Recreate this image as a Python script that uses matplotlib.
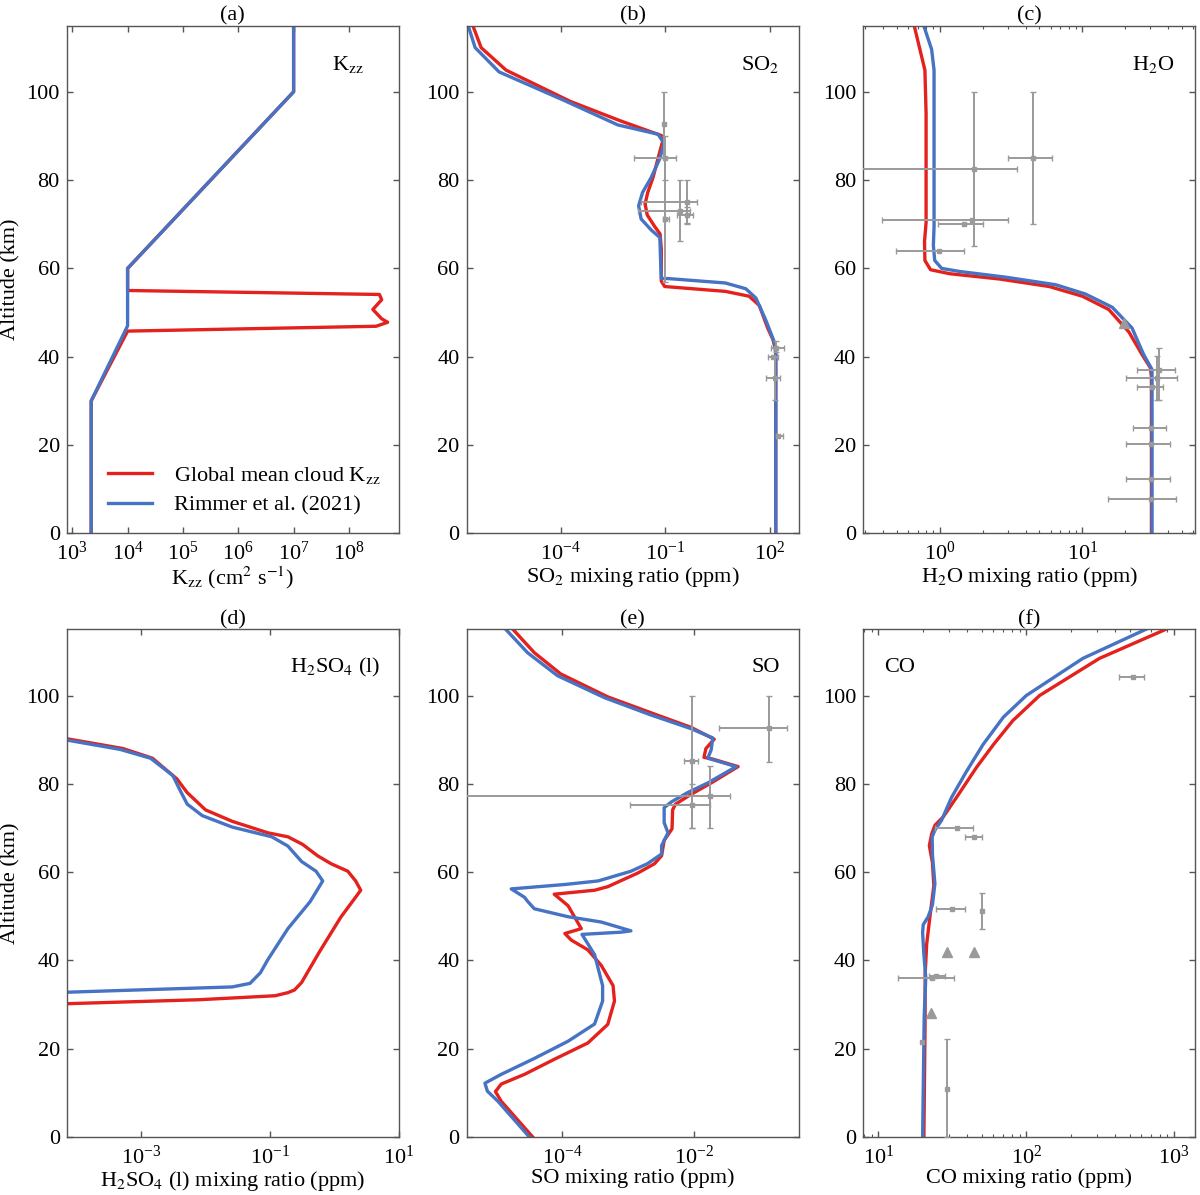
import matplotlib
matplotlib.use("Agg")
import matplotlib.pyplot as plt
import numpy as np
from matplotlib.ticker import FixedLocator, LogLocator, NullLocator, NullFormatter

plt.rcParams['font.family'] = ['Liberation Serif', 'DejaVu Serif']
plt.rcParams['mathtext.fontset'] = 'stix'
plt.rcParams['font.size'] = 16

RED = '#e4211c'
BLUE = '#4673c3'
GREY = '#9a9a9a'

# ---- (a) Kzz profiles ----
kzz_alt_blue = [0, 30, 47, 60, 100, 115]
kzz_blue = [2.2e3, 2.2e3, 1e4, 1e4, 1e7, 1e7]
kzz_alt_red = [0, 30, 45.8, 46.9, 47.8, 48.6, 50.7, 52.9, 54.1, 55.0, 60, 100, 115]
kzz_red = [2.2e3, 2.2e3, 1e4, 3.1e8, 5.0e8, 3.9e8, 2.7e8, 3.9e8, 3.55e8, 1e4, 1e4, 1e7, 1e7]

# ---- (b) SO2 ----
so2_alt_red = [115, 110.0, 104.9, 97.8, 93.4, 90.1, 89.1, 84.9, 80.6, 77.2, 74.6, 72.1, 69.5,
               67.8, 64.4, 57.1, 55.9, 54.8, 53.7, 51.6, 46.5, 43.9, 41.4, 0]
so2_red = [3.0e-7, 5.2e-7, 2.7e-6, 1.9e-4, 5.2e-3, 0.076, 0.085, 0.061, 0.044, 0.031, 0.026, 0.030,
           0.049, 0.070, 0.076, 0.076, 0.095, 5.2, 25, 49, 85, 120, 145, 145]
so2_alt_blue = [115, 110, 104.5, 98.1, 92.5, 90.4, 88.3, 84.9, 80.6, 77.2, 74.2, 71.2, 68.7,
                67.0, 61.0, 57.7, 57.7, 56.7, 55.4, 53.3, 48.2, 43.1, 40.5, 0]
so2_blue = [2.2e-7, 3.5e-7, 1.7e-6, 1.2e-4, 4.3e-3, 0.061, 0.091, 0.069, 0.039, 0.022, 0.017, 0.020,
            0.039, 0.069, 0.073, 0.076, 0.12, 5.2, 20, 39, 76, 135, 145, 145]
# value, altitude, x low, x high, alt low, alt high
so2_obs = [
    (0.091, 92.6, None, None, 85.2, 100),
    (0.10, 85.1, 0.0129, 0.20, 80, 90),
    (0.10, 71.1, 0.083, 0.127, 57, 85),
    (0.26, 73.1, 0.016, 0.49, 66.1, 80),
    (0.41, 75.1, 0.020, 0.79, 70.2, 80),
    (0.41, 72.1, 0.21, 0.63, 70, 74),
    (150, 42.0, 107, 245, 41, 43.5),
    (120, 40.0, 87, 170, None, None),
    (135, 35.1, 78, 187, 30.2, 40),
    (170, 22.1, 145, 234, None, None),
]

# ---- (c) H2O ----
h2o_alt_red = [115, 104.9, 95.1, 70.4, 66.1, 61.8, 59.7, 58.8, 57.6, 55.9, 53.7, 50.7, 45.6,
               40.5, 37.5, 35.4, 0]
h2o_red = [0.66, 0.785, 0.80, 0.80, 0.78, 0.785, 0.86, 1.17, 2.62, 5.85, 10, 15.3, 21.2,
           26.2, 30.0, 30.5, 30.5]
h2o_alt_blue = [115, 109.6, 104.9, 69.5, 65.2, 61.8, 60.0, 59.3, 58.0, 56.3, 54.2, 51.2, 46.5,
                40.5, 37.1, 0]
h2o_blue = [0.77, 0.875, 0.91, 0.91, 0.90, 0.92, 1.03, 1.38, 2.92, 6.5, 10.5, 16.2, 22.3,
            26.9, 30.8, 30.8]
h2o_obs = [
    (1.73, 82.5, 0.2, 3.5, 65, 100),
    (4.48, 85.0, 3.0, 6.08, 70, 100),
    (1.67, 71.0, 0.39, 3.0, None, None),
    (1.48, 70.0, 0.97, 2.0, None, None),
    (0.99, 64.0, 0.49, 1.48, None, None),
    (34.3, 37.1, 24.2, 44.9, 30.2, 42),
    (33.3, 35.1, 20.1, 46.0, 30.2, 40.2),
    (30.8, 33.1, 24.2, 36.6, None, None),
    (30.5, 23.8, 22.6, 38.8, None, None),
    (30.5, 20.2, 20.1, 40.9, None, None),
    (30.5, 12.2, 20.1, 40.9, None, None),
    (30.5, 7.7, 15.1, 45.7, None, None),
]
h2o_tri = [(19.6, 47.7)]

# ---- (d) H2SO4 (l) ----
h2so4_alt_red = [90.2, 88.0, 85.8, 81.1, 78.0, 74.1, 71.5, 68.9, 68.0, 66.3, 63.7, 61.9, 60.2,
                 58.0, 55.9, 49.8, 42.0, 35.0, 33.3, 32.7, 32.0, 31.1, 30.2]
h2so4_red = [7.1e-5, 5.2e-4, 1.5e-3, 3.6e-3, 5.2e-3, 0.010, 0.026, 0.093, 0.19, 0.32, 0.55, 0.89,
             1.62, 2.14, 2.57, 1.26, 0.59, 0.31, 0.24, 0.19, 0.12, 7.9e-3, 7.1e-5]
h2so4_alt_blue = [89.9, 87.8, 85.8, 81.9, 78.0, 75.4, 72.8, 70.2, 68.0, 65.9, 62.4, 60.2, 58.0,
                  53.3, 47.2, 40.2, 37.2, 34.8, 34.0, 33.4, 32.8]
h2so4_blue = [7.1e-5, 4.7e-4, 1.4e-3, 3.1e-3, 4.2e-3, 5.2e-3, 8.9e-3, 0.026, 0.107, 0.19, 0.31,
              0.52, 0.66, 0.42, 0.19, 0.093, 0.071, 0.049, 0.026, 1.35e-3, 7.1e-5]

# ---- (e) SO ----
so_alt_red = [115, 109.7, 104.9, 99.7, 95.8, 92.8, 90.1, 88.0, 86.0, 85.6, 83.9, 80.2, 77.6,
              75.4, 74.1, 69.8, 67.2, 63.7, 61.9, 59.8, 56.7, 55.9, 55.0, 52.4, 49.8, 47.2,
              46.1, 44.6, 42.4, 38.9, 34.3, 30.8, 25.5, 21.3, 17.6, 14.2, 12.0, 10.3, 8.1, 0]
so_red = [1.8e-5, 3.8e-5, 9.5e-5, 4.9e-4, 2.5e-3, 8.9e-3, 0.020, 0.015, 0.014, 0.019, 0.046,
          0.018, 8.9e-3, 5.2e-3, 4.7e-3, 4.6e-3, 3.5e-3, 3.2e-3, 2.5e-3, 1.4e-3, 4.9e-4, 3.1e-4,
          7.6e-5, 1.23e-4, 1.55e-4, 1.95e-4, 1.1e-4, 1.38e-4, 2.45e-4, 3.9e-4, 5.9e-4, 6.2e-4,
          4.9e-4, 2.45e-4, 7.6e-5, 2.7e-5, 1.2e-5, 9.8e-6, 1.2e-5, 3.6e-5]
so_alt_blue = [115, 109.7, 104.5, 99.5, 95.6, 92.5, 90.4, 87.7, 85.8, 83.9, 80.2, 78.0, 75.9,
               74.6, 71.2, 68.9, 66.0, 64.1, 61.9, 60.2, 58.0, 57.2, 56.2, 54.3, 53.4, 51.7,
               49.9, 48.7, 46.7, 46.4, 45.9, 41.3, 34.3, 30.8, 25.6, 21.7, 17.8, 14.2, 12.2,
               10.4, 8.1, 0]
so_blue = [1.4e-5, 3.0e-5, 8.5e-5, 4.4e-4, 2.2e-3, 8.9e-3, 0.019, 0.018, 0.016, 0.043, 0.016,
           7.9e-3, 4.5e-3, 3.5e-3, 3.5e-3, 4.0e-3, 3.2e-3, 3.2e-3, 1.95e-3, 1.1e-3, 3.5e-4,
           1.1e-4, 1.7e-5, 2.7e-5, 3.0e-5, 3.8e-5, 1.23e-4, 3.9e-4, 1.1e-3, 7.8e-4, 2.0e-4,
           3.1e-4, 4.1e-4, 4.1e-4, 3.1e-4, 1.23e-4, 3.8e-5, 1.2e-5, 6.8e-6, 7.4e-6, 1.07e-5,
           3.2e-5]
so_obs = [
    (0.135, 92.7, 0.024, 0.257, 85, 100),
    (9.1e-3, 85.1, 6.9e-3, 0.0115, 70, 100),
    (0.0174, 77.2, 1e-6, 0.035, 70, 84),
    (9.1e-3, 75.2, 1.05e-3, 0.0174, 70, 80),
]

# ---- (f) CO ----
co_alt_red = [115, 108.4, 100, 94.3, 88.9, 83.7, 76.9, 72.5, 70.6, 68.6, 66.0, 62.1, 56.9,
              49.9, 43.7, 36.8, 27.4, 0]
co_red = [879, 312, 123, 81, 60, 46, 33.7, 27.4, 24.1, 22.9, 22.1, 23.2, 23.7, 22.3, 21.2,
          20.7, 20.7, 20.3]
co_alt_blue = [115, 108.4, 100, 95.1, 88.9, 82.8, 76.9, 71.7, 69.5, 68.0, 63.9, 57.4, 52.6,
               49.9, 48.1, 46.3, 41.3, 36.1, 27.4, 0]
co_blue = [644, 241, 100, 70, 51, 39.4, 31.2, 26.7, 24.1, 23.1, 23.2, 24.1, 23.2, 21.7, 20.1,
           19.9, 20.3, 20.9, 20.4, 19.9]
co_obs = [
    (524, 104.1, 426, 621, None, None),
    (34, 70.1, 24, 43.7, None, None),
    (44, 68.0, 38.8, 49.8, None, None),
    (31.5, 51.7, 24.5, 38.8, None, None),
    (49.8, 51.1, None, None, 47.1, 55.2),
    (23.2, 36.1, 13.5, 32.4, None, None),
    (24.5, 36.5, 22, 28, None, None),
    (19.6, 21.6, None, None, None, None),
    (29.2, 10.9, None, None, 0, 22.2),
]
co_tri = [(29, 41.8), (44, 41.8), (22.6, 28.0)]


def draw_obs(ax, pts, tri=()):
    for x, z, xlo, xhi, zlo, zhi in pts:
        xerr = None if xlo is None else [[x - xlo], [xhi - x]]
        yerr = None if zlo is None else [[z - zlo], [zhi - z]]
        ax.errorbar([x], [z], xerr=xerr, yerr=yerr, fmt='s', color=GREY, ms=3.5,
                    elinewidth=1.4, capsize=2, capthick=1, zorder=4)
    for x, z in tri:
        ax.plot(x, z, '^', color=GREY, ms=7, zorder=4)


def style(ax, xlim, majors, minor, title, xlabel, tag, tag_x):
    ax.set_xscale('log')
    ax.set_xlim(*xlim)
    ax.set_ylim(0, 115)
    ax.xaxis.set_major_locator(FixedLocator(majors))
    if minor:
        ax.xaxis.set_minor_locator(LogLocator(base=10, subs=np.arange(2, 10), numticks=50))
    else:
        ax.xaxis.set_minor_locator(NullLocator())
    ax.xaxis.set_minor_formatter(NullFormatter())
    ax.set_yticks([0, 20, 40, 60, 80, 100])
    ax.tick_params(which='both', direction='in', top=True, right=True, labelsize=16,
                   color='#555555')
    ax.tick_params(axis='x', which='major', pad=6)
    ax.tick_params(axis='y', which='major', pad=5)
    ax.tick_params(which='major', length=4, width=1)
    ax.tick_params(which='minor', length=2.5, width=0.8)
    for s in ax.spines.values():
        s.set_color('#555555')
        s.set_linewidth(1.0)
    ax.set_title(title, fontsize=16, pad=3)
    ax.set_xlabel(xlabel, fontsize=16, labelpad=0)
    ax.text(tag_x, 0.924, tag, transform=ax.transAxes, ha='center', va='center', fontsize=16)


fig = plt.figure(figsize=(12, 11.95), dpi=100)
lefts = [0.0556, 0.3889, 0.7194]
w, h = 0.2767, 0.4249
axs = [fig.add_axes([lefts[i % 3], 0.5537 if i < 3 else 0.0485, w, h]) for i in range(6)]

lw = 2.4
ax = axs[0]
ax.plot(kzz_red, kzz_alt_red, color=RED, lw=lw, label=r'Global mean cloud K$_{\mathrm{zz}}$')
ax.plot(kzz_blue, kzz_alt_blue, color=BLUE, lw=lw, label='Rimmer et al. (2021)')
style(ax, (10**2.9, 10**8.9), [1e3, 1e4, 1e5, 1e6, 1e7, 1e8], False, '(a)',
      r'K$_{\mathrm{zz}}$ (cm$^2$ s$^{-1}$)', r'K$_{\mathrm{zz}}$', 0.847)
ax.set_ylabel('Altitude (km)', fontsize=16)
ax.legend(loc='lower right', frameon=False, fontsize=16, handlelength=2.0,
          handletextpad=1.0, borderaxespad=0.4, labelspacing=0.4)

ax = axs[1]
ax.plot(so2_red, so2_alt_red, color=RED, lw=lw)
ax.plot(so2_blue, so2_alt_blue, color=BLUE, lw=lw)
draw_obs(ax, so2_obs)
style(ax, (2e-7, 660), [1e-4, 1e-1, 1e2], False, '(b)', 'SO$_2$ mixing ratio (ppm)',
      'SO$_2$', 0.883)

ax = axs[2]
ax.plot(h2o_red, h2o_alt_red, color=RED, lw=lw)
ax.plot(h2o_blue, h2o_alt_blue, color=BLUE, lw=lw)
draw_obs(ax, h2o_obs, h2o_tri)
style(ax, (0.29, 62), [1e0, 1e1], True, '(c)', 'H$_2$O mixing ratio (ppm)', 'H$_2$O', 0.873)

ax = axs[3]
ax.plot(h2so4_red, h2so4_alt_red, color=RED, lw=lw)
ax.plot(h2so4_blue, h2so4_alt_blue, color=BLUE, lw=lw)
style(ax, (7e-5, 10), [1e-3, 1e-1, 1e1], False, '(d)', 'H$_2$SO$_4$ (l) mixing ratio (ppm)',
      'H$_2$SO$_4$ (l)', 0.808)
ax.set_ylabel('Altitude (km)', fontsize=16)

ax = axs[4]
ax.plot(so_red, so_alt_red, color=RED, lw=lw)
ax.plot(so_blue, so_alt_blue, color=BLUE, lw=lw)
draw_obs(ax, so_obs)
style(ax, (3.6e-6, 0.38), [1e-4, 1e-2], False, '(e)', 'SO mixing ratio (ppm)', 'SO', 0.90)

ax = axs[5]
ax.plot(co_red, co_alt_red, color=RED, lw=lw)
ax.plot(co_blue, co_alt_blue, color=BLUE, lw=lw)
draw_obs(ax, co_obs, co_tri)
style(ax, (7.9, 1390), [1e1, 1e2, 1e3], True, '(f)', 'CO mixing ratio (ppm)', 'CO', 0.11)

fig.savefig('out.png', dpi=100)
